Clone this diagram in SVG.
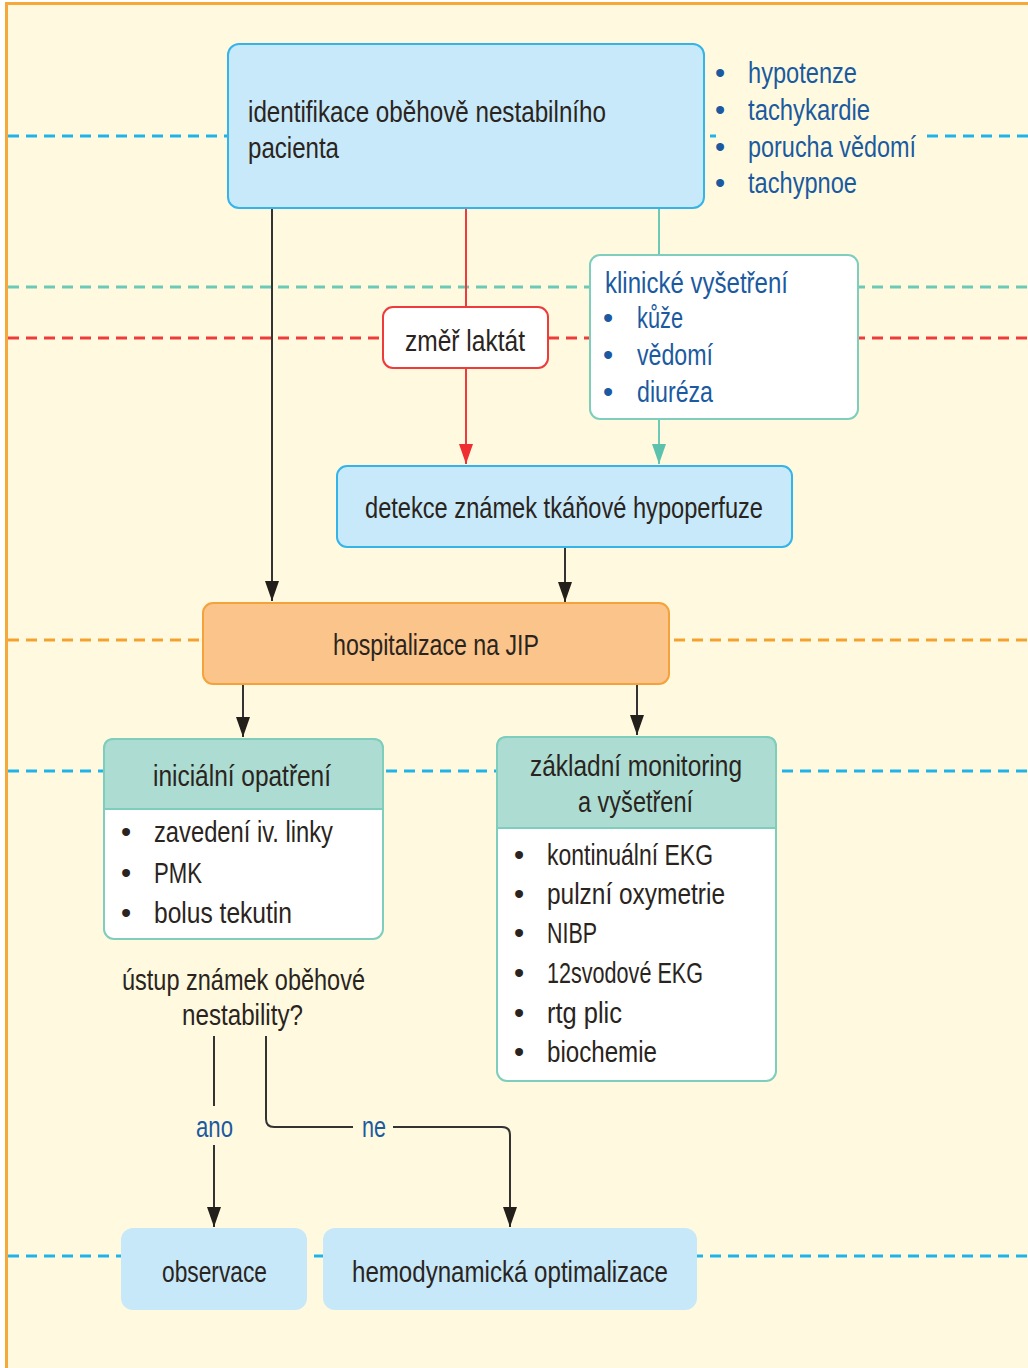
<svg xmlns="http://www.w3.org/2000/svg" width="1028" height="1368" viewBox="0 0 1028 1368">
<defs>
<style>
.t{font-family:"Liberation Sans",Arial,sans-serif;font-size:29px;fill:#2a2420}
.b{fill:#1b5aa0}
.dash{fill:none;stroke-width:3;stroke-dasharray:11 7}
.con{fill:none;stroke:#333;stroke-width:2}
.blue{fill:#c8e9f9;stroke:#35b4ea;stroke-width:2}
</style>
<marker id="ak" viewBox="0 0 20 14" refX="20" refY="7" markerWidth="20" markerHeight="14" markerUnits="userSpaceOnUse" orient="auto"><path d="M0,0 L20,7 L0,14 z" fill="#231f1a"/></marker>
<marker id="ar" viewBox="0 0 20 14" refX="20" refY="7" markerWidth="20" markerHeight="14" markerUnits="userSpaceOnUse" orient="auto"><path d="M0,0 L20,7 L0,14 z" fill="#ee2e31"/></marker>
<marker id="at" viewBox="0 0 20 14" refX="20" refY="7" markerWidth="20" markerHeight="14" markerUnits="userSpaceOnUse" orient="auto"><path d="M0,0 L20,7 L0,14 z" fill="#5cc2ad"/></marker>
</defs>
<rect width="1028" height="1368" fill="#ffffff"/>
<rect x="6" y="3" width="1022" height="1365" fill="#fffadf"/>
<path d="M6.5,1368 V3.5 H1028" fill="none" stroke="#f6a83a" stroke-width="3"/>

<g id="lanes">
<path class="dash" stroke="#1fb3ea" d="M8,136 H716 M927,136 H1028"/>
<path class="dash" stroke="#6cc9b6" d="M8,287 H1028"/>
<path class="dash" stroke="#ee3b3b" d="M8,338 H1028"/>
<path class="dash" stroke="#f5a12f" d="M8,640 H1028"/>
<path class="dash" stroke="#1fb3ea" d="M8,771 H1028"/>
<path class="dash" stroke="#1fb3ea" d="M8,1256 H1028"/>
</g>

<g id="connectors">
<path class="con" d="M272,208 V601" marker-end="url(#ak)"/>
<path fill="none" stroke="#ee3b3b" stroke-width="2" d="M466,208 V307"/>
<path fill="none" stroke="#ee3b3b" stroke-width="2" d="M466,367 V464" marker-end="url(#ar)"/>
<path fill="none" stroke="#6cc9b6" stroke-width="2" d="M659,208 V255"/>
<path fill="none" stroke="#6cc9b6" stroke-width="2" d="M659,419 V464" marker-end="url(#at)"/>
<path class="con" d="M565,547 V602" marker-end="url(#ak)"/>
<path class="con" d="M243,684 V737" marker-end="url(#ak)"/>
<path class="con" d="M637,684 V735" marker-end="url(#ak)"/>
<path class="con" d="M214,1036 V1106 M214,1145 V1227" marker-end="url(#ak)"/>
<path class="con" d="M266,1036 V1119 Q266,1127 274,1127 H353"/>
<path class="con" d="M393,1127 H502 Q510,1127 510,1135 V1227" marker-end="url(#ak)"/>
<text class="t b" x="196" y="1137" textLength="37" lengthAdjust="spacingAndGlyphs">ano</text>
<text class="t b" x="362" y="1137" textLength="24" lengthAdjust="spacingAndGlyphs">ne</text>
</g>

<g id="identifikace">
<rect class="blue" x="228" y="44" width="476" height="164" rx="11"/>
<text class="t" x="248" y="122" textLength="358" lengthAdjust="spacingAndGlyphs">identifikace oběhově nestabilního</text>
<text class="t" x="248" y="158" textLength="91" lengthAdjust="spacingAndGlyphs">pacienta</text>
</g>

<g id="symptoms">
<text class="t b" x="715" y="83">•</text><text class="t b" x="748" y="83" textLength="109" lengthAdjust="spacingAndGlyphs">hypotenze</text>
<text class="t b" x="715" y="120">•</text><text class="t b" x="748" y="120" textLength="122" lengthAdjust="spacingAndGlyphs">tachykardie</text>
<text class="t b" x="715" y="157">•</text><text class="t b" x="748" y="157" textLength="168" lengthAdjust="spacingAndGlyphs">porucha vědomí</text>
<text class="t b" x="715" y="193">•</text><text class="t b" x="748" y="193" textLength="109" lengthAdjust="spacingAndGlyphs">tachypnoe</text>
</g>

<g id="laktat">
<rect x="383" y="307" width="165" height="61" rx="10" fill="#ffffff" stroke="#ee3b3b" stroke-width="2"/>
<text class="t" x="405" y="351" textLength="120" lengthAdjust="spacingAndGlyphs">změř laktát</text>
</g>

<g id="klinicke">
<rect x="590" y="255" width="268" height="164" rx="10" fill="#ffffff" stroke="#7ecdbd" stroke-width="2"/>
<text class="t b" x="605" y="293" textLength="183" lengthAdjust="spacingAndGlyphs">klinické vyšetření</text>
<text class="t b" x="603" y="328">•</text><text class="t b" x="637" y="328" textLength="46" lengthAdjust="spacingAndGlyphs">kůže</text>
<text class="t b" x="603" y="365">•</text><text class="t b" x="637" y="365" textLength="76" lengthAdjust="spacingAndGlyphs">vědomí</text>
<text class="t b" x="603" y="402">•</text><text class="t b" x="637" y="402" textLength="76" lengthAdjust="spacingAndGlyphs">diuréza</text>
</g>

<g id="detekce">
<rect class="blue" x="337" y="466" width="455" height="81" rx="10"/>
<text class="t" x="365" y="518" textLength="398" lengthAdjust="spacingAndGlyphs">detekce známek tkáňové hypoperfuze</text>
</g>

<g id="jip">
<rect x="203" y="603" width="466" height="81" rx="10" fill="#fbc48a" stroke="#f6a23c" stroke-width="2"/>
<text class="t" x="333" y="655" textLength="206" lengthAdjust="spacingAndGlyphs">hospitalizace na JIP</text>
</g>

<g id="inicialni">
<rect x="104" y="739" width="279" height="200" rx="10" fill="#ffffff" stroke="#7ecdbd" stroke-width="2"/>
<path d="M104,809 V749 Q104,739 114,739 H373 Q383,739 383,749 V809 Z" fill="#acdcd2" stroke="#7ecdbd" stroke-width="2"/>
<text class="t" x="153" y="786" textLength="178" lengthAdjust="spacingAndGlyphs">iniciální opatření</text>
<text class="t" x="121" y="842">•</text><text class="t" x="154" y="842" textLength="179" lengthAdjust="spacingAndGlyphs">zavedení iv. linky</text>
<text class="t" x="121" y="883">•</text><text class="t" x="154" y="883" textLength="48" lengthAdjust="spacingAndGlyphs">PMK</text>
<text class="t" x="121" y="923">•</text><text class="t" x="154" y="923" textLength="138" lengthAdjust="spacingAndGlyphs">bolus tekutin</text>
</g>

<g id="otazka">
<text class="t" x="122" y="990" textLength="243" lengthAdjust="spacingAndGlyphs">ústup známek oběhové</text>
<text class="t" x="182" y="1025" textLength="121" lengthAdjust="spacingAndGlyphs">nestability?</text>
</g>

<g id="monitoring">
<rect x="497" y="737" width="279" height="344" rx="10" fill="#ffffff" stroke="#7ecdbd" stroke-width="2"/>
<path d="M497,828 V747 Q497,737 507,737 H766 Q776,737 776,747 V828 Z" fill="#acdcd2" stroke="#7ecdbd" stroke-width="2"/>
<text class="t" x="530" y="776" textLength="212" lengthAdjust="spacingAndGlyphs">základní monitoring</text>
<text class="t" x="578" y="812" textLength="115" lengthAdjust="spacingAndGlyphs">a vyšetření</text>
<text class="t" x="514" y="865">•</text><text class="t" x="547" y="865" textLength="166" lengthAdjust="spacingAndGlyphs">kontinuální EKG</text>
<text class="t" x="514" y="904">•</text><text class="t" x="547" y="904" textLength="178" lengthAdjust="spacingAndGlyphs">pulzní oxymetrie</text>
<text class="t" x="514" y="943">•</text><text class="t" x="547" y="943" textLength="50" lengthAdjust="spacingAndGlyphs">NIBP</text>
<text class="t" x="514" y="983">•</text><text class="t" x="547" y="983" textLength="156" lengthAdjust="spacingAndGlyphs">12svodové EKG</text>
<text class="t" x="514" y="1023">•</text><text class="t" x="547" y="1023" textLength="75" lengthAdjust="spacingAndGlyphs">rtg plic</text>
<text class="t" x="514" y="1062">•</text><text class="t" x="547" y="1062" textLength="110" lengthAdjust="spacingAndGlyphs">biochemie</text>
</g>

<g id="observace">
<rect x="121" y="1228" width="186" height="82" rx="12" fill="#c6e8f9"/>
<text class="t" x="162" y="1282" textLength="105" lengthAdjust="spacingAndGlyphs">observace</text>
</g>

<g id="optimalizace">
<rect x="323" y="1228" width="374" height="82" rx="12" fill="#c6e8f9"/>
<text class="t" x="352" y="1282" textLength="316" lengthAdjust="spacingAndGlyphs">hemodynamická optimalizace</text>
</g>
</svg>
